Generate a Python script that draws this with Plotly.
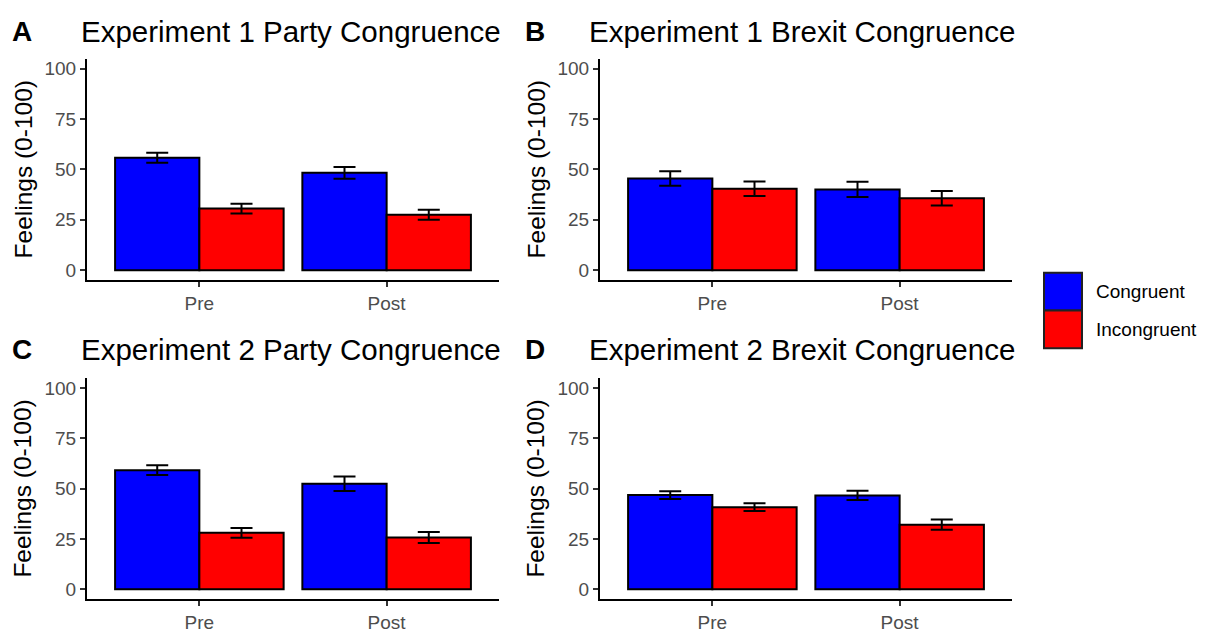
import plotly.graph_objects as go

W, H = 1205, 633
OFF = 8  # browser default body margin

times = ["Pre", "Post"]
groups = ["Congruent", "Incongruent"]
colors = {"Congruent": "#0000FF", "Incongruent": "#FF0000"}

panel_letters = ["A", "B", "C", "D"]
panel_titles = [
    "Experiment 1 Party Congruence",
    "Experiment 1 Brexit Congruence",
    "Experiment 2 Party Congruence",
    "Experiment 2 Brexit Congruence",
]

# means [Pre, Post]
cong_means = [[55.8, 48.3], [45.5, 40.1], [59.2, 52.4], [46.8, 46.6]]
incong_means = [[30.6, 27.5], [40.4, 35.7], [28.0, 25.7], [40.8, 32.1]]
# error half-widths
cong_err = [[2.5, 2.9], [3.6, 3.8], [2.4, 3.6], [1.9, 2.3]]
incong_err = [[2.4, 2.5], [3.6, 3.6], [2.4, 2.7], [1.9, 2.6]]

y_ticks = [0, 25, 50, 75, 100]
y_title = "Feelings (0-100)"

FONT = "Liberation Sans, Arial, sans-serif"

FW, FH = W - OFF, H - OFF

def px_x(p):
    return (p - OFF) / FW

def px_y(p):
    return 1 - (p - OFF) / FH

# panel geometry in pixels: (x0, x1) and (ytop, ybottom)
cols = [(87, 499), (600, 1012)]
rows = [(59, 282.5), (381, 604)]

fig = go.Figure()

for i in range(4):
    r, c = divmod(i, 2)
    x0, x1 = cols[c]
    yt, yb = rows[r]
    xa = "x" if i == 0 else f"x{i+1}"
    ya = "y" if i == 0 else f"y{i+1}"
    for g, means, errs in [("Congruent", cong_means[i], cong_err[i]),
                           ("Incongruent", incong_means[i], incong_err[i])]:
        fig.add_trace(go.Bar(
            x=times, y=means, name=g, xaxis=xa, yaxis=ya,
            marker=dict(color=colors[g], line=dict(color="black", width=2)),
            error_y=dict(type="data", array=errs, visible=True,
                         color="black", thickness=2, width=11),
            showlegend=False, offsetgroup=g,
        ))
    xkey = "xaxis" if i == 0 else f"xaxis{i+1}"
    ykey = "yaxis" if i == 0 else f"yaxis{i+1}"
    fig.layout[xkey] = dict(
        domain=[px_x(x0), px_x(x1)], anchor=ya, type="category",
        range=[-0.6, 1.6], showline=True, linecolor="black", linewidth=2,
        ticks="outside", ticklen=5, tickwidth=1.5, tickcolor="#333333",
        tickfont=dict(family=FONT, size=19, color="#4D4D4D"),
        showgrid=False, zeroline=False, fixedrange=True,
    )
    fig.layout[ykey] = dict(
        domain=[px_y(yb), px_y(yt)], anchor=xa,
        range=[-5, 105], tickvals=y_ticks, showline=True, linecolor="black",
        linewidth=2, ticks="outside", ticklen=5, tickwidth=1.5,
        tickcolor="#333333",
        tickfont=dict(family=FONT, size=19, color="#4D4D4D"),
        showgrid=False, zeroline=False, fixedrange=True,
    )
    # y-axis title
    fig.add_annotation(
        x=px_x(x0 - 64), y=px_y((yt + yb) / 2), xref="paper", yref="paper",
        text=y_title, textangle=-90, showarrow=False,
        xanchor="center", yanchor="middle",
        font=dict(family=FONT, size=24.5, color="black"),
    )
    letter_x = 10 if c == 0 else 523
    title_x = 79 if c == 0 else 587
    title_y = 32 if r == 0 else 352
    fig.add_annotation(
        x=px_x(letter_x), y=px_y(title_y), xref="paper", yref="paper",
        text=f"<b>{panel_letters[i]}</b>", showarrow=False,
        xanchor="left", yanchor="middle",
        font=dict(family=FONT, size=28, color="black"),
    )
    fig.add_annotation(
        x=px_x(title_x), y=px_y(title_y), xref="paper", yref="paper",
        text=panel_titles[i], showarrow=False,
        xanchor="left", yanchor="middle",
        font=dict(family=FONT, size=29.5, color="black"),
    )

# legend drawn manually (large keys)
key_x0, key_x1 = 1044, 1082
key_tops = [275, 313]
for g, top in zip(groups, key_tops):
    fig.add_shape(
        type="rect", xref="paper", yref="paper",
        x0=px_x(key_x0), x1=px_x(key_x1), y0=px_y(top + 38), y1=px_y(top),
        fillcolor=colors[g], line=dict(color="#222222", width=2),
    )
    fig.add_annotation(
        x=px_x(1094), y=px_y(top + 19), xref="paper", yref="paper",
        text=g, showarrow=False, xanchor="left", yanchor="middle",
        font=dict(family=FONT, size=19, color="black"),
    )

fig.update_layout(
    width=FW, height=FH, margin=dict(l=0, r=0, t=0, b=0),
    paper_bgcolor="white", plot_bgcolor="white",
    barmode="group", bargap=0.1, bargroupgap=0,
    showlegend=False,
    font=dict(family=FONT),
)

fig.write_html("out.html", config={"displayModeBar": False})
